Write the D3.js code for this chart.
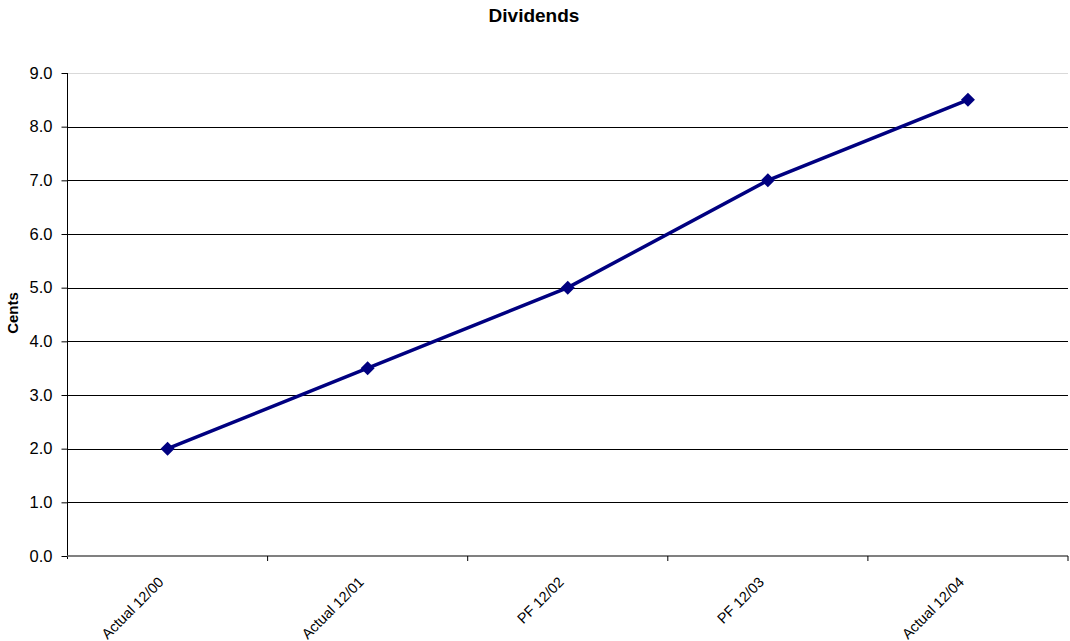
<!DOCTYPE html>
<html>
<head>
<meta charset="utf-8">
<script src="https://cdn.jsdelivr.net/npm/d3@7"></script>
<style>
  html, body { margin: 0; padding: 0; background: #fff; }
  svg { display: block; font-family: "Liberation Sans", Arial, sans-serif; }
</style>
</head>
<body>
<svg id="chart" width="1070" height="641"></svg>
<script>
// Dividend per share, in cents
const categories = ["Actual 12/00", "Actual 12/01", "PF 12/02", "PF 12/03", "Actual 12/04"];
const dividends = [2.0, 3.5, 5.0, 7.0, 8.5];
const yTicks = [0, 1, 2, 3, 4, 5, 6, 7, 8, 9];

const svg = d3.select("#chart");
const plotLeft = 67.5, plotRight = 1068, plotTop = 73, plotBottom = 556;

const x = d3.scaleBand().domain(categories).range([plotLeft, plotRight]);
const y = d3.scaleLinear().domain([0, 9]).range([plotBottom, plotTop]);

// Title
svg.append("text")
  .attr("x", 534).attr("y", 22)
  .attr("text-anchor", "middle")
  .attr("font-weight", "bold").attr("font-size", 19)
  .text("Dividends");

// Horizontal gridlines (top one lighter)
svg.append("g").selectAll("line")
  .data(yTicks.filter(d => d > 0))
  .join("line")
  .attr("x1", plotLeft).attr("x2", plotRight)
  .attr("y1", d => Math.round(y(d)) + 0.5).attr("y2", d => Math.round(y(d)) + 0.5)
  .attr("stroke", d => d === 9 ? "#d9d9d9" : "#000")
  .attr("stroke-width", 1);

// Y axis
const yAxis = svg.append("g")
  .attr("transform", `translate(${plotLeft},0)`)
  .call(d3.axisLeft(y).tickValues(yTicks).tickFormat(d3.format(".1f")).tickSize(6).tickPadding(9));
yAxis.select(".domain").attr("stroke", "#000").attr("d", `M0,${plotTop}V${plotBottom + 3}`);
yAxis.selectAll(".tick line").attr("stroke", "#000");
yAxis.selectAll(".tick text")
  .attr("font-size", 16.5).attr("fill", "#000")
  .attr("font-family", "'Liberation Sans', Arial, sans-serif");

// X axis baseline
svg.append("line")
  .attr("x1", plotLeft).attr("x2", plotRight)
  .attr("y1", plotBottom).attr("y2", plotBottom)
  .attr("stroke", "#808080").attr("stroke-width", 2);

// X ticks at category boundaries
const boundaries = categories.map(c => x(c)).concat([plotRight]).slice(1);
svg.append("g").selectAll("line")
  .data(boundaries)
  .join("line")
  .attr("x1", d => d).attr("x2", d => d)
  .attr("y1", plotBottom).attr("y2", plotBottom + 5)
  .attr("stroke", "#000");

// X category labels, rotated
svg.append("g").selectAll("text")
  .data(categories)
  .join("text")
  .attr("transform", d => `translate(${x(d) + x.bandwidth() / 2 - 3},583) rotate(-45)`)
  .attr("text-anchor", "end")
  .attr("font-size", 14.5)
  .text(d => d);

// Y axis title
svg.append("text")
  .attr("transform", "translate(18,313) rotate(-90)")
  .attr("text-anchor", "middle")
  .attr("font-weight", "bold").attr("font-size", 15)
  .text("Cents");

// Series line
const pts = categories.map((c, i) => [x(c) + x.bandwidth() / 2, y(dividends[i])]);
svg.append("path")
  .attr("d", d3.line()(pts))
  .attr("fill", "none")
  .attr("stroke", "#000080")
  .attr("stroke-width", 3.5);

// Diamond markers
svg.append("g").selectAll("path")
  .data(pts)
  .join("path")
  .attr("transform", d => `translate(${d[0]},${d[1]})`)
  .attr("d", "M0,-7L7,0L0,7L-7,0Z")
  .attr("fill", "#000080");
</script>
</body>
</html>
